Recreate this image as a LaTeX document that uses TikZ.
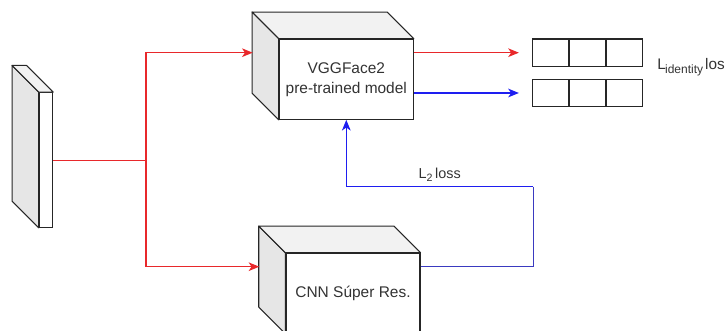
\documentclass[tikz,border=0pt]{standalone}
\usepackage{fontspec}
\setmainfont{Liberation Sans}
\usetikzlibrary{arrows.meta,calc}
\definecolor{sideface}{HTML}{E6E6E6}
\definecolor{topface}{HTML}{F2F2F2}
\definecolor{inkred}{HTML}{E8282B}
\definecolor{inkblue}{HTML}{1E1EF0}
\definecolor{lossblue}{HTML}{3A3AC0}
\definecolor{txt}{HTML}{333333}
% depth of the oblique faces, in picture units
\newcommand\depthpx{26.7}
% side and top faces of a box whose front face is node #1
\newcommand\boxfaces[1]{%
  \filldraw[fill=sideface,facestroke] (#1.north west) -- ++(-\depthpx,-\depthpx)
    -- ($(#1.south west)+(-\depthpx,-\depthpx)$) -- (#1.south west) -- cycle;
  \filldraw[fill=topface,facestroke] (#1.north west) -- ++(-\depthpx,-\depthpx)
    -- ($(#1.north east)+(-\depthpx,-\depthpx)$) -- (#1.north east) -- cycle;
}
% lowered subscript in a given size
\newcommand\lowsub[3]{\raisebox{-#2}{\fontsize{#1}{#1}\selectfont #3}}
\begin{document}
\begin{tikzpicture}[x=0.75pt,y=-0.75pt,
  facestroke/.style={draw=black!85,line width=0.8pt,line join=round},
  front/.style={draw=black!85,fill=white,line width=0.8pt,inner sep=0pt,
    minimum width=100.5pt,minimum height=60pt,align=center,text=txt,
    font=\fontsize{11.6}{15}\selectfont},
  cell/.style={draw=black!85,line width=0.8pt,inner sep=0pt,
    minimum width=26.8pt,minimum height=20.5pt},
  lbl/.style={text=txt,inner sep=0pt,font=\fontsize{10.8}{12}\selectfont},
  tip/.style={-{Stealth[length=8pt,width=6.5pt,inset=2.2pt]}},
  redline/.style={draw=inkred,line width=0.95pt},
  blueline/.style={draw=inkblue,line width=0.95pt},
  lossline/.style={draw=lossblue,line width=0.95pt}]
\useasboundingbox (0,0) rectangle (725,331);

% input image slab
\node[front,minimum width=10.05pt,minimum height=100.95pt] (img) at (46,160) {};
\boxfaces{img}

% VGGFace2 box
\node[front] (vgg) at (346.3,79.3) {VGGFace2\\pre-trained model};
\boxfaces{vgg}

% super-resolution CNN box
\node[front] (cnn) at (353,293.3) {CNN Súper Res.};
\boxfaces{cnn}

% embedding vectors
\node[cell] (a1) at (550.6,52.7) {};
\node[cell,anchor=west] (a2) at (a1.east) {};
\node[cell,anchor=west] (a3) at (a2.east) {};
\node[cell] (b1) at (550.6,93) {};
\node[cell,anchor=west] (b2) at (b1.east) {};
\node[cell,anchor=west] (b3) at (b2.east) {};

% labels
\node[lbl,anchor=base west,font=\fontsize{11.5}{12}\selectfont] (lid) at (657,70)
  {L\kern-0.5pt\lowsub{9}{3pt}{identity}\kern1.5pt loss};
\node[lbl,anchor=base west] (l2) at (418.3,178.3)
  {L\lowsub{8}{2.5pt}{2}\kern2pt loss};

% routing points
\coordinate (split) at (146,160.3);
\coordinate (vggin) at (252.7,52.7);
\coordinate (cnnin) at (259.3,266.7);
\coordinate (l2turn) at (533.3,186.7);

% input feeds both networks
\draw[redline] (img.east |- split) -- (split);
\draw[redline,tip] (split) |- (vggin);
\draw[redline,tip] (split) |- (cnnin);

% VGGFace2 outputs
\draw[redline,tip,shorten >=10pt] (vgg.east |- a1.west) -- (a1.west);
\draw[blueline,tip,shorten >=10pt] (vgg.east |- b1.west) -- (b1.west);

% L2 loss feedback from the CNN output
\draw[lossline] ($(cnn.north east)+(0,13.4)$) -| (l2turn);
\draw[blueline,tip] (l2turn) -| (vgg.south);
\end{tikzpicture}
\end{document}
